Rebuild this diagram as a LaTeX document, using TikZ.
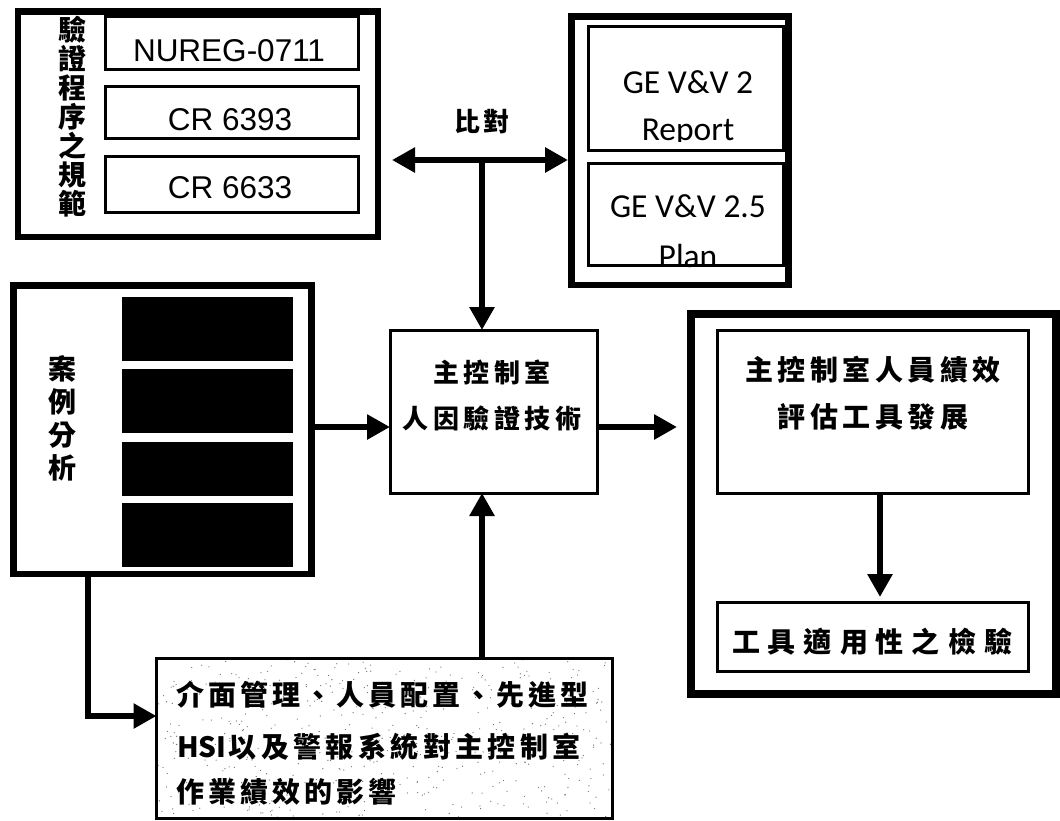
\documentclass[tikz,border=0pt]{standalone}
\usepackage{fontspec}
\setmainfont{Liberation Sans}
\newfontfamily\cjk{Noto Sans CJK TC}
\newfontfamily\calib{Carlito}
\usetikzlibrary{arrows.meta,calc}

% CJK text: size and baseline skip
\newcommand{\zh}[2]{\cjk\bfseries\fontsize{#1}{#2}\selectfont}
% set each character of a string in a cell of fixed width
\def\sploop#1{\ifx#1\relax\else\makebox[\cellw][c]{#1}\expandafter\sploop\fi}
\newcommand{\spread}[2]{\def\cellw{#1}\sploop#2\relax}

\begin{document}
\begin{tikzpicture}[x=1pt,y=-1pt,
  heavy/.style={draw, line width=6.5pt, inner sep=0pt, outer sep=0pt},
  thinbox/.style={draw, line width=3pt, inner sep=0pt, outer sep=0pt},
  ink/.style={fill=black, inner sep=0pt, outer sep=0pt},
  flow/.style={line width=6.5pt, -{Triangle[length=23pt,width=24pt]}},
  twoway/.style={line width=6.5pt, {Triangle[length=23pt,width=24pt]}-{Triangle[length=23pt,width=24pt]}},
  lat/.style={font=\fontsize{31.5}{36}\selectfont, inner sep=0pt},
  ge/.style={font=\calib\fontsize{33.5}{38}\selectfont, inner sep=0pt, anchor=base},
]
\useasboundingbox (0,0) rectangle (1060,820);

% ---- standards block (top left)
\node[font=\zh{28}{29}, align=center, inner sep=0pt] (vt) at (72,117) {驗\\證\\程\\序\\之\\規\\範};
\node[lat] (t1) at (229,51) {NUREG-0711};
\node[lat] (t2) at (230,120) {CR 6393};
\node[lat] (t3) at (230,188) {CR 6633};
\node[heavy, minimum width=360pt, minimum height=225.5pt] (tl) at (198,124.25) {};
\node[thinbox, minimum width=253pt, minimum height=52.5pt] (nureg) at (231.5,42.75) {};
\node[thinbox, minimum width=253pt, minimum height=51.5pt] (cra) at (231.5,112.25) {};
\node[thinbox, minimum width=253pt, minimum height=55.5pt] (crb) at (231.5,184.25) {};

% ---- GE documents block (top right)
\node[ge] (g1) at (688,93) {GE V\&V 2};
\begin{scope}
  \clip (588.5,26.5) rectangle (783.5,141);
  \node[ge] (g2) at (688,140) {Report};
\end{scope}
\node[ge] (g3) at (688,217) {GE V\&V 2.5};
\node[ge] (g4) at (688,267) {Plan};
\node[heavy, minimum width=217pt, minimum height=268.5pt] (tr) at (680,150.75) {};
\node[thinbox, minimum width=195pt, minimum height=123.5pt] (gea) at (686,88.25) {};
\node[thinbox, minimum width=195pt, minimum height=101.5pt] (geb) at (686,214.25) {};

% ---- comparison label and junction
\node[font=\zh{26}{30}, inner sep=0pt] (cmp) at (482,122) {\spread{30pt}{比對}};
\coordinate (jn) at (482,160);

% ---- case analysis block (left)
\node[heavy, minimum width=298pt, minimum height=288.5pt] (case) at (162.5,429.75) {};
\node[font=\zh{28}{33}, align=center, inner sep=0pt] (ct) at (62,418) {案\\例\\分\\析};
\node[ink, minimum width=171pt, minimum height=64pt] (b1) at (207.5,329) {};
\node[ink, minimum width=171pt, minimum height=64pt] (b2) at (207.5,401) {};
\node[ink, minimum width=171pt, minimum height=54pt] (b3) at (207.5,469) {};
\node[ink, minimum width=171pt, minimum height=64pt] (b4) at (207.5,535) {};

% ---- central technique box
\node[thinbox, minimum width=207pt, minimum height=163pt] (core) at (493.5,411.5) {};
\node[font=\zh{26}{46}, align=center, inner sep=0pt] (coret) at (492,395) {\spread{30.5pt}{主控制室}\\\spread{30.5pt}{人因驗證技術}};

% ---- tool development block (right)
\node[draw, line width=8pt, inner sep=0pt, outer sep=0pt, minimum width=365pt, minimum height=379.5pt] (rbox) at (873.5,503.75) {};
\node[thinbox, minimum width=311pt, minimum height=163pt] (perf) at (873,411.5) {};
\node[font=\zh{28}{47}, align=center, inner sep=0pt] (perft) at (873,393.5) {\spread{32.5pt}{主控制室人員績效}\\\spread{32.5pt}{評估工具發展}};
\node[thinbox, minimum width=311pt, minimum height=69.5pt] (check) at (873,636.75) {};
\node[font=\zh{28}{32}, inner sep=0pt] (checkt) at (872,642) {\spread{36pt}{工具適用性之檢驗}};

% ---- influence study box (bottom), with its stippled paper texture
\begin{scope}
  \clip (158,659.5) rectangle (611,818);
  \pgfmathsetseed{4217}
  \foreach \k in {1,...,520} {
    \fill[black!55] ({158+453*rnd},{659.5+160*rnd}) circle (0.65pt);
  }
\end{scope}
\node[thinbox, minimum width=456pt, minimum height=160pt] (bot) at (384.5,738) {};
\node[font=\zh{28}{32}, inner sep=0pt, anchor=west] (l1) at (174,695) {\spread{32pt}{介面管理、人員配置、先進型}};
\node[font=\zh{28}{32}, inner sep=0pt, anchor=west] (l2) at (177,746.5) {HSI\spread{32.4pt}{以及警報系統對主控制室}};
\node[font=\zh{28}{32}, inner sep=0pt, anchor=west] (l3) at (174,791.5) {\spread{32pt}{作業績效的影響}};

% ---- connectors
\coordinate (mid) at (0,427);
\coordinate (dn) at (880,0);
\coordinate (elb) at (88,716);
\draw[twoway, shorten <=14pt, shorten >=3.5pt] (tl.east |- jn) -- (tr.west |- jn);
\draw[flow] (jn) -- (jn |- core.north);
\draw[flow] (case.east |- mid) -- (core.west |- mid);
\draw[flow, shorten >=14pt] (core.east |- mid) -- (rbox.west |- mid);
\draw[flow, shorten >=5pt] (perf.south -| dn) -- (check.north -| dn);
\draw[flow] (bot.north -| jn) -- (core.south -| jn);
\draw[flow] (elb |- case.south) -- (elb) -- (elb -| bot.west);
\end{tikzpicture}
\end{document}
